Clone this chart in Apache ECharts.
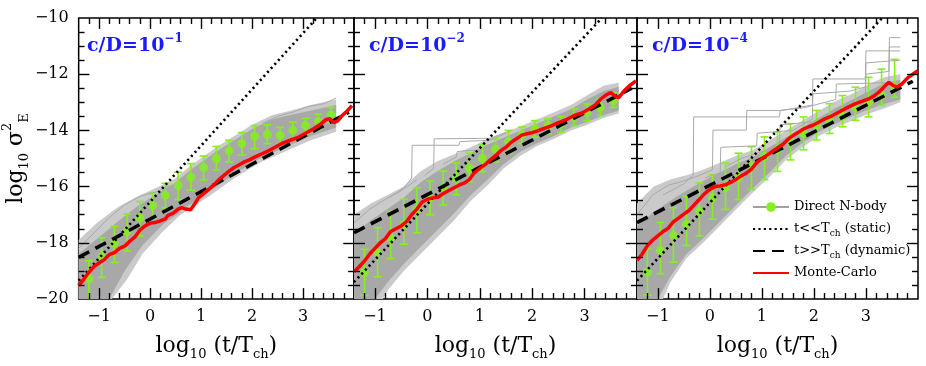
<!DOCTYPE html>
<html>
<head>
<meta charset="utf-8">
<script src="https://cdn.jsdelivr.net/npm/echarts@6/dist/echarts.min.js"></script>
<style>
  html, body { margin: 0; padding: 0; background: #fff; }
  #chart { width: 926px; height: 366px; }
</style>
</head>
<body>
<div id="chart"></div>
<script>
// bin centres of the averaged N-body points (same in every panel)
const binX = [-1.2, -0.95, -0.7, -0.45, -0.2, 0.05, 0.3, 0.55, 0.8, 1.05, 1.3, 1.55, 1.8, 2.05, 2.3, 2.55, 2.8, 3.05, 3.3, 3.55]
const panelExp = ['\u22121', '\u22122', '\u22124']
const legendNames = ['Direct N-body', 't<<Tch (static)', 't>>Tch (dynamic)', 'Monte-Carlo']
// tick marks drawn on all four sides of each frame
const xMajorTicks = [-1, 0, 1, 2, 3]
const xMinorTicks = [-1.2, -0.8, -0.6, -0.4, -0.2, 0.2, 0.4, 0.6, 0.8, 1.2, 1.4, 1.6, 1.8, 2.2, 2.4, 2.6, 2.8, 3.2, 3.4, 3.6, 3.8]
const yMajorTicks = [-18, -16, -14, -12]
const yMinorTicks = [-19.5, -19, -18.5, -17.5, -17, -16.5, -15.5, -15, -14.5, -13.5, -13, -12.5, -11.5, -11, -10.5]

// ---- panel 1 : c/D = 1e-1
const nbMean1 = [-19.28, -18.5, -18.02, -17.58, -17.11, -16.67, -16.31, -15.96, -15.67, -15.32, -15.0, -14.73, -14.47, -14.21, -14.15, -14.18, -14.0, -13.83, -13.69, -13.45]
const nbHigh1 = [-18.64, -17.82, -17.41, -16.97, -16.53, -16.23, -15.88, -15.49, -15.18, -14.91, -14.57, -14.35, -14.08, -13.83, -13.8, -13.89, -13.71, -13.57, -13.42, -13.18]
const nbLow1 = [-20.3, -19.23, -18.7, -18.29, -17.76, -17.11, -16.76, -16.46, -16.12, -15.76, -15.41, -15.12, -14.88, -14.65, -14.47, -14.47, -14.3, -14.12, -13.97, -13.73]
const mc1 = [[-1.4, -19.52], [-1.3, -19.3], [-1.2, -19.05], [-1.1, -18.85], [-1.0, -18.72], [-0.9, -18.6], [-0.8, -18.42], [-0.7, -18.35], [-0.6, -18.2], [-0.5, -18.12], [-0.4, -17.95], [-0.3, -17.8], [-0.2, -17.55], [-0.1, -17.4], [0.0, -17.3], [0.1, -17.28], [0.2, -17.22], [0.3, -17.15], [0.35, -17.02], [0.45, -16.95], [0.55, -16.8], [0.62, -16.75], [0.7, -16.8], [0.8, -16.82], [0.88, -16.6], [0.95, -16.4], [1.05, -16.25], [1.15, -16.1], [1.25, -15.95], [1.35, -15.75], [1.45, -15.6], [1.55, -15.45], [1.65, -15.32], [1.75, -15.22], [1.85, -15.12], [1.95, -15.05], [2.05, -14.95], [2.15, -14.87], [2.3, -14.75], [2.45, -14.6], [2.6, -14.45], [2.75, -14.35], [2.9, -14.25], [3.05, -14.1], [3.2, -13.95], [3.35, -13.77], [3.45, -13.62], [3.52, -13.58], [3.6, -13.72], [3.68, -13.66], [3.78, -13.45], [3.87, -13.3], [3.96, -13.12]]
const static1 = [[-1.4, -19.35], [3.27, -10]]
const dynamic1 = [[-1.4, -18.52], [3.9, -13.35]]
const grayOuterHi1 = [[-1.4, -17.9], [-1.05, -17.3], [-0.65, -16.75], [-0.25, -16.35], [0.05, -16.1], [0.5, -15.7], [0.8, -15.25], [1.3, -14.6], [1.65, -14.2], [2.0, -13.8], [2.4, -13.45], [2.75, -13.3], [3.15, -13.1], [3.65, -12.9]]
const grayOuterLo1 = [[-1.4, -20], [-0.75, -20], [-0.45, -19.3], [-0.15, -18.4], [0.25, -17.6], [0.6, -17.0], [1.15, -16.35], [1.65, -15.7], [2.15, -15.15], [2.65, -14.75], [3.15, -14.35], [3.65, -14.05]]
const grayCoreHi1 = [[-1.4, -18.4], [-1.0, -17.8], [-0.6, -17.2], [-0.25, -16.7], [0.05, -16.35], [0.5, -15.85], [0.8, -15.4], [1.3, -14.75], [1.65, -14.35], [2.0, -13.95], [2.4, -13.6], [2.75, -13.45], [3.15, -13.3], [3.65, -13.1]]
const grayCoreLo1 = [[-1.4, -20], [-0.8, -20], [-0.5, -19.0], [-0.15, -18.1], [0.25, -17.35], [0.6, -16.85], [1.15, -16.2], [1.65, -15.55], [2.15, -15.0], [2.65, -14.6], [3.15, -14.2], [3.65, -13.9]]
const grayRuns1 = [
  [[-1.4, -18.2], [-1.1, -17.65], [-0.8, -17.1], [-0.5, -16.65], [-0.2, -16.35], [0.1, -16.2], [0.4, -15.95]],
  [[-1.15, -20], [-0.9, -19.5], [-0.6, -18.95], [-0.3, -18.35], [0.0, -17.7], [0.3, -17.25], [0.6, -16.9]],
  [[2.2, -13.75], [2.5, -13.5], [2.8, -13.35], [3.1, -13.15], [3.4, -13.05], [3.65, -12.85]]
]

// ---- panel 2 : c/D = 1e-2
const nbMean2 = [-19.05, -18.35, -17.82, -17.35, -16.82, -16.41, -16.06, -15.7, -15.35, -15.0, -14.67, -14.41, -14.15, -13.94, -13.83, -13.77, -13.53, -13.36, -13.18, -12.95]
const nbHigh2 = [-18.23, -17.46, -16.88, -16.45, -16.04, -15.8, -15.45, -15.16, -14.81, -14.51, -14.3, -14.0, -13.88, -13.65, -13.59, -13.5, -13.24, -13.06, -12.89, -12.65]
const nbLow2 = [-19.87, -19.21, -18.56, -18.05, -17.64, -17.0, -16.66, -16.29, -15.83, -15.47, -15.12, -14.82, -14.47, -14.24, -14.12, -14.06, -13.83, -13.65, -13.47, -13.18]
const mc2 = [[-1.4, -19.03], [-1.3, -18.85], [-1.2, -18.65], [-1.1, -18.4], [-1.0, -18.2], [-0.9, -18.0], [-0.8, -17.85], [-0.7, -17.6], [-0.6, -17.5], [-0.5, -17.4], [-0.4, -17.25], [-0.3, -17.0], [-0.2, -16.8], [-0.1, -16.55], [0.0, -16.45], [0.1, -16.4], [0.2, -16.38], [0.3, -16.25], [0.4, -16.15], [0.5, -16.05], [0.6, -15.95], [0.7, -15.88], [0.8, -15.75], [0.9, -15.5], [1.0, -15.35], [1.1, -15.22], [1.2, -15.05], [1.3, -14.9], [1.4, -14.72], [1.5, -14.6], [1.6, -14.42], [1.7, -14.3], [1.8, -14.17], [1.9, -14.12], [2.0, -14.08], [2.1, -14.02], [2.2, -13.95], [2.35, -13.85], [2.5, -13.72], [2.65, -13.62], [2.8, -13.47], [2.95, -13.38], [3.1, -13.22], [3.2, -13.1], [3.3, -12.9], [3.4, -12.75], [3.5, -12.65], [3.58, -12.78], [3.65, -12.83], [3.75, -12.6], [3.85, -12.42], [3.98, -12.24]]
const static2 = [[-1.4, -19.4], [3.33, -10]]
const dynamic2 = [[-1.4, -17.64], [3.9, -12.5]]
const grayOuterHi2 = [[-1.4, -17.0], [-1.08, -16.6], [-0.76, -16.3], [-0.45, -16.0], [-0.13, -15.45], [0.19, -15.1], [0.51, -14.85], [0.83, -14.6], [1.15, -14.3], [1.46, -14.1], [1.78, -13.85], [2.1, -13.6], [2.42, -13.35], [2.74, -13.1], [3.05, -12.75], [3.37, -12.4], [3.65, -12.3]]
const grayOuterLo2 = [[-1.4, -20], [-0.85, -20], [-0.76, -19.7], [-0.45, -19.0], [-0.13, -18.4], [0.19, -17.8], [0.51, -17.2], [0.83, -16.5], [1.15, -15.95], [1.46, -15.35], [1.78, -14.9], [2.1, -14.55], [2.42, -14.3], [2.74, -14.0], [3.05, -13.8], [3.37, -13.55], [3.65, -13.4]]
const grayCoreHi2 = [[-1.4, -17.7], [-1.08, -17.2], [-0.76, -16.8], [-0.45, -16.4], [-0.13, -15.85], [0.19, -15.45], [0.51, -15.1], [0.83, -14.8], [1.15, -14.5], [1.46, -14.25], [1.78, -14.0], [2.1, -13.75], [2.42, -13.5], [2.74, -13.25], [3.05, -12.9], [3.37, -12.6], [3.65, -12.45]]
const grayCoreLo2 = [[-1.4, -20], [-1.0, -20], [-0.76, -19.4], [-0.45, -18.75], [-0.13, -18.15], [0.19, -17.55], [0.51, -16.95], [0.83, -16.3], [1.15, -15.75], [1.46, -15.2], [1.78, -14.75], [2.1, -14.45], [2.42, -14.2], [2.74, -13.9], [3.05, -13.7], [3.37, -13.45], [3.65, -13.3]]
const grayRuns2 = [
  [[-0.7, -16.35], [-0.45, -16.05], [-0.3, -15.7], [-0.29, -14.53], [0.6, -14.53], [0.62, -14.4], [1.2, -14.35], [1.5, -14.1]],
  [[-0.05, -15.6], [0.12, -15.35], [0.13, -14.3], [1.2, -14.28], [1.6, -14.0]],
  [[0.3, -15.2], [0.55, -14.95], [0.57, -14.75], [0.95, -14.7], [1.3, -14.45]],
  [[-1.4, -17.3], [-1.1, -16.8], [-0.8, -16.45], [-0.5, -16.15], [-0.2, -15.75]]
]

// ---- panel 3 : c/D = 1e-4
const nbMean3 = [-19.04, -18.27, -17.75, -17.34, -16.87, -16.4, -16.04, -15.69, -15.28, -14.93, -14.69, -14.4, -14.11, -13.81, -13.64, -13.5, -13.17, -12.99, -12.76, -12.46]
const nbHigh3 = [-18.22, -17.28, -16.75, -16.34, -15.87, -15.58, -15.16, -14.81, -14.58, -14.23, -14.05, -13.76, -13.52, -13.29, -13.05, -12.76, -12.46, -12.11, -11.82, -11.47]
const nbLow3 = [-19.86, -19.1, -18.69, -18.1, -17.75, -17.16, -16.81, -16.46, -16.1, -15.75, -15.46, -15.05, -14.69, -14.34, -14.11, -13.87, -13.64, -13.52, -13.11, -12.82]
const mc3 = [[-1.4, -18.63], [-1.3, -18.4], [-1.2, -18.1], [-1.1, -17.9], [-1.0, -17.75], [-0.9, -17.6], [-0.8, -17.48], [-0.7, -17.25], [-0.6, -17.12], [-0.5, -16.98], [-0.4, -16.85], [-0.3, -16.65], [-0.2, -16.45], [-0.1, -16.25], [0.0, -16.1], [0.1, -16.0], [0.2, -15.98], [0.3, -15.93], [0.4, -15.85], [0.5, -15.75], [0.6, -15.62], [0.7, -15.52], [0.8, -15.38], [0.9, -15.15], [1.0, -15.0], [1.1, -14.88], [1.2, -14.75], [1.3, -14.62], [1.4, -14.5], [1.5, -14.32], [1.6, -14.18], [1.7, -14.07], [1.8, -13.95], [1.9, -13.87], [2.0, -13.8], [2.1, -13.7], [2.2, -13.6], [2.35, -13.48], [2.5, -13.33], [2.65, -13.18], [2.8, -13.05], [2.95, -12.95], [3.05, -12.88], [3.15, -12.78], [3.25, -12.64], [3.35, -12.45], [3.44, -12.29], [3.52, -12.4], [3.6, -12.46], [3.69, -12.35], [3.8, -12.13], [3.9, -12.0], [3.99, -11.88]]
const static3 = [[-1.4, -19.35], [3.31, -10]]
const dynamic3 = [[-1.4, -17.28], [3.9, -12.25]]
const grayOuterHi3 = [[-1.4, -16.6], [-1.08, -16.0], [-0.76, -15.75], [-0.45, -15.6], [-0.13, -15.4], [0.19, -15.15], [0.51, -14.9], [0.83, -14.7], [1.15, -14.35], [1.46, -14.0], [1.78, -13.65], [2.1, -13.3], [2.42, -12.95], [2.74, -12.7], [3.06, -12.35], [3.37, -12.1], [3.66, -12.0]]
const grayOuterLo3 = [[-1.4, -20], [-0.9, -20], [-0.76, -19.4], [-0.45, -18.55], [-0.13, -18.0], [0.19, -17.4], [0.51, -16.8], [0.83, -16.2], [1.15, -15.65], [1.46, -15.05], [1.78, -14.6], [2.1, -14.2], [2.42, -13.9], [2.74, -13.65], [3.06, -13.4], [3.37, -13.2], [3.66, -13.0]]
const grayCoreHi3 = [[-1.4, -17.4], [-1.08, -16.9], [-0.76, -16.5], [-0.45, -16.15], [-0.13, -15.8], [0.19, -15.5], [0.51, -15.2], [0.83, -14.95], [1.15, -14.6], [1.46, -14.25], [1.78, -13.9], [2.1, -13.55], [2.42, -13.2], [2.74, -12.9], [3.06, -12.6], [3.37, -12.3], [3.66, -12.2]]
const grayCoreLo3 = [[-1.4, -20], [-1.0, -20], [-0.76, -19.2], [-0.45, -18.4], [-0.13, -17.85], [0.19, -17.25], [0.51, -16.65], [0.83, -16.05], [1.15, -15.5], [1.46, -14.9], [1.78, -14.45], [2.1, -14.05], [2.42, -13.75], [2.74, -13.5], [3.06, -13.25], [3.37, -13.05], [3.66, -12.9]]
const grayRuns3 = [
  [[-0.9, -16.3], [-0.5, -15.9], [-0.32, -15.6], [-0.31, -13.52], [1.34, -13.52], [1.35, -13.3], [1.97, -13.1], [1.98, -12.17], [2.99, -12.17], [3.0, -11.17], [3.66, -11.17]],
  [[-0.2, -15.6], [0.05, -15.4], [0.06, -13.99], [0.7, -13.99], [0.71, -13.29], [1.34, -13.29], [1.8, -13.2], [2.42, -12.9], [2.43, -12.35], [3.44, -12.3], [3.45, -10.7], [3.66, -10.7]],
  [[0.3, -15.3], [0.6, -15.0], [1.0, -14.75], [1.34, -14.58], [1.35, -13.8], [1.97, -13.7], [2.5, -13.2], [2.99, -12.7], [3.0, -12.0], [3.44, -11.9], [3.45, -11.03], [3.66, -11.03]],
  [[-0.1, -15.7], [0.2, -15.5], [0.21, -14.6], [0.9, -14.55], [0.91, -14.1], [1.6, -14.0], [1.97, -13.6], [1.98, -12.7], [2.7, -12.6], [2.99, -12.45], [3.0, -11.6], [3.66, -11.5]],
  [[-1.4, -17.0], [-1.1, -16.3], [-0.8, -15.95], [-0.5, -15.8], [-0.2, -15.6]]
]

const SERIF = "'DejaVu Serif', serif"
const GREEN = '#84f01c'
const BLUE = '#1a1aff'
const X_MIN = -1.4, X_MAX = 4, Y_MIN = -20, Y_MAX = -10
const gridLeft = [72, 354, 637]
const gridWidth = [282, 283, 281]
const gridHeight = 284

const panels = [
  { mean: nbMean1, high: nbHigh1, low: nbLow1, mc: mc1, stat: static1, dyn: dynamic1, oHi: grayOuterHi1, oLo: grayOuterLo1, cHi: grayCoreHi1, cLo: grayCoreLo1, runs: grayRuns1 },
  { mean: nbMean2, high: nbHigh2, low: nbLow2, mc: mc2, stat: static2, dyn: dynamic2, oHi: grayOuterHi2, oLo: grayOuterLo2, cHi: grayCoreHi2, cLo: grayCoreLo2, runs: grayRuns2 },
  { mean: nbMean3, high: nbHigh3, low: nbLow3, mc: mc3, stat: static3, dyn: dynamic3, oHi: grayOuterHi3, oLo: grayOuterLo3, cHi: grayCoreHi3, cLo: grayCoreLo3, runs: grayRuns3 }
]

const minus = v => String(v).replace('-', '\u2212')
const nameRich = {
  n: { fontFamily: SERIF, fontSize: 22, lineHeight: 30, color: '#000' },
  s: { fontFamily: SERIF, fontSize: 13, lineHeight: 22, verticalAlign: 'bottom', color: '#000' },
  p: { fontFamily: SERIF, fontSize: 13, lineHeight: 20, verticalAlign: 'top', color: '#000' }
}

const xAxes = panels.map((p, i) => ({
  gridIndex: i, type: 'value', min: X_MIN, max: X_MAX, splitNumber: 5,
  splitLine: { show: false }, axisTick: { show: false }, axisLine: { show: false, onZero: false },
  axisLabel: {
    margin: 10, fontFamily: SERIF, fontSize: 16, color: '#000',
    formatter: v => (Number.isInteger(v) && v < 4) ? minus(v) : ''
  },
  name: '{n|log}{s|10}{n| (t/T}{s|ch}{n|)}', nameLocation: 'middle', nameGap: 32,
  nameTextStyle: { rich: nameRich }
}))
const yAxes = panels.map((p, i) => {
  const y = {
    gridIndex: i, type: 'value', min: Y_MIN, max: Y_MAX, interval: 2,
    splitLine: { show: false }, axisTick: { show: false }, axisLine: { show: false, onZero: false },
    axisLabel: { show: i === 0, margin: 10, fontFamily: SERIF, fontSize: 16, color: '#000', formatter: minus }
  }
  if (i === 0) {
    Object.assign(y, {
      name: '{n|log}{s|10}{n| \u03c3}{p|2}{s|E}', nameLocation: 'middle', nameRotate: 90, nameGap: 44,
      nameTextStyle: { rich: nameRich }
    })
  }
  return y
})

// inward tick marks on all four sides, as short segments of a lines series
function frameTicks(i) {
  const dy = (Y_MAX - Y_MIN) / gridHeight      // data units per pixel, vertical
  const dx = (X_MAX - X_MIN) / gridWidth[i]    // data units per pixel, horizontal
  const segs = []
  const addX = (v, len) => {
    segs.push({ coords: [[v, Y_MIN], [v, Y_MIN + len * dy]] })
    segs.push({ coords: [[v, Y_MAX], [v, Y_MAX - len * dy]] })
  }
  const addY = (v, len) => {
    segs.push({ coords: [[X_MIN, v], [X_MIN + len * dx, v]] })
    segs.push({ coords: [[X_MAX, v], [X_MAX - len * dx, v]] })
  }
  xMajorTicks.forEach(v => addX(v, 11))
  xMinorTicks.forEach(v => addX(v, 6))
  yMajorTicks.forEach(v => addY(v, 11))
  yMinorTicks.forEach(v => addY(v, 6))
  return {
    type: 'lines', coordinateSystem: 'cartesian2d', xAxisIndex: i, yAxisIndex: i,
    silent: true, z: 20, polyline: false, clip: false,
    lineStyle: { color: '#000', width: 1.4, opacity: 1, curveness: 0 },
    data: segs
  }
}

function band(i, hi, lo, color) {
  return {
    type: 'custom', xAxisIndex: i, yAxisIndex: i, silent: true,
    data: [[0, -15]],
    renderItem: (params, api) => {
      const pts = hi.map(q => api.coord(q)).concat(lo.slice().reverse().map(q => api.coord(q)))
      return { type: 'polygon', shape: { points: pts }, style: { fill: color } }
    }
  }
}

function errorBars(i, low, high) {
  return {
    type: 'custom', xAxisIndex: i, yAxisIndex: i, silent: true,
    data: binX.map((x, k) => [x, low[k], high[k]]),
    renderItem: (params, api) => {
      const bottom = params.coordSys.y + params.coordSys.height
      const t = api.coord([api.value(0), api.value(2)])
      const b = api.coord([api.value(0), api.value(1)])
      const w = 4
      const style = { stroke: GREEN, lineWidth: 1.6 }
      const kids = [
        { type: 'line', shape: { x1: t[0], y1: t[1], x2: b[0], y2: Math.min(b[1], bottom) }, style },
        { type: 'line', shape: { x1: t[0] - w, y1: t[1], x2: t[0] + w, y2: t[1] }, style }
      ]
      if (b[1] <= bottom) kids.push({ type: 'line', shape: { x1: b[0] - w, y1: b[1], x2: b[0] + w, y2: b[1] }, style })
      return { type: 'group', children: kids }
    }
  }
}

const series = []
panels.forEach((p, i) => {
  const ax = { xAxisIndex: i, yAxisIndex: i }
  series.push(band(i, p.oHi, p.oLo, '#cacaca'))
  series.push(band(i, p.cHi, p.cLo, '#a8a8a8'))
  p.runs.forEach(r => series.push(Object.assign({
    type: 'line', data: r, symbol: 'none', silent: true,
    lineStyle: { color: '#a9a9a9', width: 1 }
  }, ax)))
  series.push(errorBars(i, p.low, p.high))
  series.push(Object.assign({
    type: 'scatter', name: 'nbody points', data: binX.map((x, k) => [x, p.mean[k]]),
    symbolSize: 9, itemStyle: { color: GREEN }, silent: true
  }, ax))
  series.push(Object.assign({
    type: 'line', name: legendNames[1], data: p.stat, symbol: 'none', silent: true,
    itemStyle: { color: '#000' },
    lineStyle: { color: '#000', width: 2.6, type: [2.2, 3.2] }
  }, ax))
  series.push(Object.assign({
    type: 'line', name: legendNames[2], data: p.dyn, symbol: 'none', silent: true,
    itemStyle: { color: '#000' },
    lineStyle: { color: '#000', width: 3.5, type: [12, 7] }
  }, ax))
  series.push(Object.assign({
    type: 'line', name: legendNames[3], data: p.mc, symbol: 'none', silent: true,
    itemStyle: { color: '#ff0000' },
    lineStyle: { color: '#ff0000', width: 3.5 }
  }, ax))
  series.push(frameTicks(i))
})
// legend-only entry: gray run line with green marker
series.push({
  type: 'line', name: legendNames[0], data: [], xAxisIndex: 2, yAxisIndex: 2,
  symbol: 'circle', symbolSize: 10,
  lineStyle: { color: '#a0a0a0', width: 2 }, itemStyle: { color: GREEN }
})

const chart = echarts.init(document.getElementById('chart'))
chart.setOption({
  animation: false,
  title: panels.map((p, i) => ({
    text: '{a|c/D=10}{b|' + panelExp[i] + '}',
    left: gridLeft[i] + 15, top: 33, padding: 0,
    textStyle: {
      rich: {
        a: { fontFamily: SERIF, fontWeight: 'bold', fontSize: 19, color: BLUE, lineHeight: 26 },
        b: { fontFamily: SERIF, fontWeight: 'bold', fontSize: 12, color: BLUE, lineHeight: 20, verticalAlign: 'top' }
      }
    }
  })),
  legend: {
    data: [
      { name: legendNames[0], itemStyle: { color: GREEN } },
      { name: legendNames[1], itemStyle: { opacity: 0 } },
      { name: legendNames[2], itemStyle: { opacity: 0 } },
      { name: legendNames[3], itemStyle: { opacity: 0 } }
    ],
    orient: 'vertical', left: 752, top: 198, padding: 0,
    itemWidth: 36, itemHeight: 12, itemGap: 4, selectedMode: false,
    formatter: name => name.indexOf('Tch') >= 0 ? name.replace('Tch', 'T{s|ch}{t|') + '}' : name,
    textStyle: {
      fontFamily: SERIF, fontSize: 13, color: '#000', lineHeight: 18,
      rich: {
        s: { fontFamily: SERIF, fontSize: 9, lineHeight: 12, verticalAlign: 'bottom', color: '#000' },
        t: { fontFamily: SERIF, fontSize: 13, lineHeight: 18, color: '#000' }
      }
    }
  },
  grid: panels.map((p, i) => ({
    left: gridLeft[i], width: gridWidth[i], top: 18, height: gridHeight,
    show: true, borderColor: '#000', borderWidth: 1.5, backgroundColor: 'transparent'
  })),
  xAxis: xAxes,
  yAxis: yAxes,
  series: series
})
</script>
</body>
</html>
